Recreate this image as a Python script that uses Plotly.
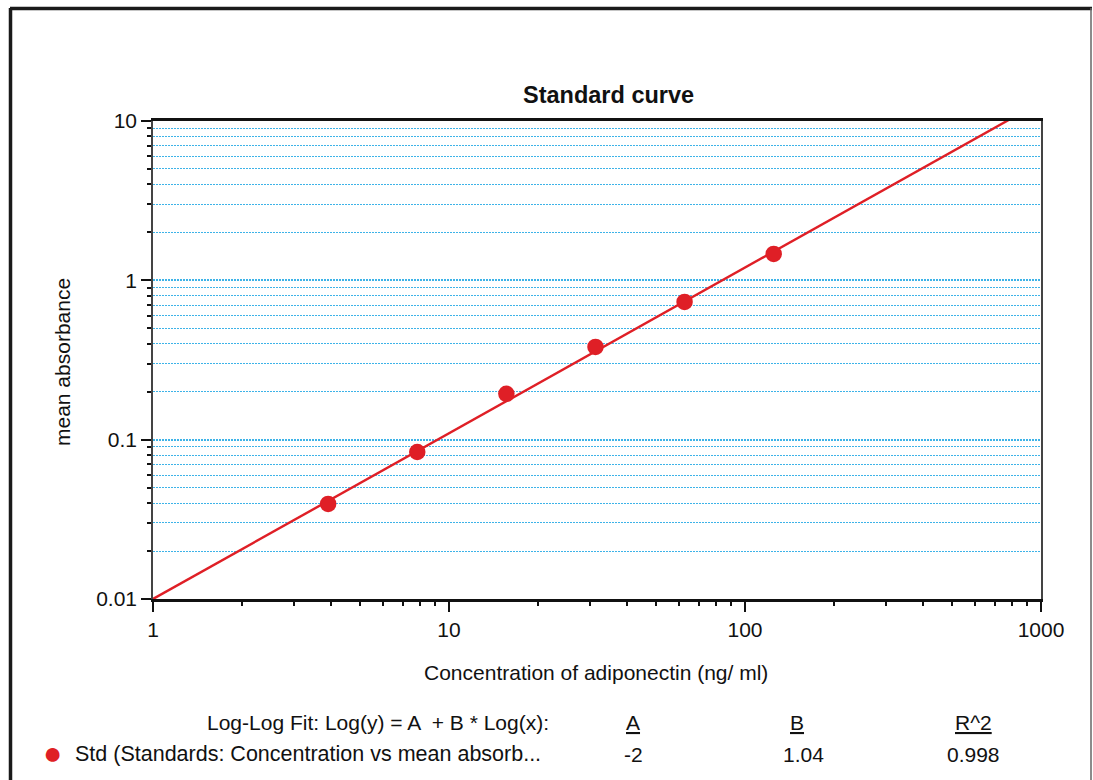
import plotly.graph_objects as go

# ---- data ----
conc = [3.906, 7.8125, 15.625, 31.25, 62.5, 125]
absorb = [0.0395, 0.0837, 0.194, 0.382, 0.732, 1.465]
fit_A = -2
fit_B = 1.04
fit_R2 = 0.998
fit_x = [1, 10, 100, 1000]
x_major = [1, 10, 100, 1000]
x_major_text = ["1", "10", "100", "1000"]
y_major = [0.01, 0.1, 1, 10]
y_major_text = ["0.01", "0.1", "1", "10"]
minor_mult = [2, 3, 4, 5, 6, 7, 8, 9]

fit_y = [10 ** fit_A * xv ** fit_B for xv in fit_x]
x_minor = [m * d for d in [1, 10, 100] for m in minor_mult]
y_minor = [m * d for d in [0.01, 0.1, 1] for m in minor_mult]

RED = "#DF1F26"
GRID = "#3DB3E8"
FONT = "Liberation Sans, Arial, sans-serif"
TXT = "#111111"
FS = 21

fig = go.Figure()
fig.add_trace(go.Scatter(x=fit_x, y=fit_y, mode="lines",
                         line=dict(color=RED, width=2.4), showlegend=False,
                         hoverinfo="skip"))
fig.add_trace(go.Scatter(x=conc, y=absorb, mode="markers",
                         marker=dict(color=RED, size=16.5, line=dict(width=0)),
                         showlegend=False, cliponaxis=False))

L, R, T, B = 153, 52, 121, 181
W, H = 1093, 780
pw, ph = W - L - R, H - T - B

def px(x):
    return (x - L) / pw

def py(y):
    return (H - B - y) / ph

fig.update_layout(
    width=W, height=H,
    margin=dict(l=L, r=R, t=T, b=B),
    paper_bgcolor="white", plot_bgcolor="white",
    font=dict(family=FONT, size=FS, color=TXT),
    showlegend=False,
    xaxis=dict(type="log", range=[0, 3], tickmode="array",
               tickvals=x_major, ticktext=x_major_text,
               ticks="outside", ticklen=10, tickwidth=2, tickcolor="#111",
               showgrid=False, zeroline=False,
               showline=True, linecolor="#111", linewidth=3, mirror=True,
               tickfont=dict(size=FS, color=TXT),
               minor=dict(tickmode="array", tickvals=x_minor, ticks="outside",
                          ticklen=4, tickwidth=2, tickcolor="#111",
                          showgrid=False)),
    yaxis=dict(type="log", range=[-2, 1], tickmode="array",
               tickvals=y_major, ticktext=y_major_text,
               ticks="outside", ticklen=10, tickwidth=2, tickcolor="#111",
               showgrid=True, gridcolor=GRID, gridwidth=1.5, griddash="2px,1px",
               zeroline=False,
               showline=True, linecolor="#444", linewidth=1.5, mirror=True,
               tickfont=dict(size=FS, color=TXT),
               minor=dict(tickmode="array", tickvals=y_minor, ticks="outside",
                          ticklen=4, tickwidth=2, tickcolor="#111",
                          showgrid=True, gridcolor=GRID, gridwidth=1,
                          griddash="2px,1px")),
)

ann = []
ann.append(dict(text="<b>Standard curve</b>", x=px(608), y=py(95),
                font=dict(size=23.5, color=TXT)))
ann.append(dict(text="Concentration of adiponectin (ng/ ml)", x=px(596), y=py(672)))
ann.append(dict(text="mean absorbance", x=px(62), y=py(362), textangle=-90))
ann.append(dict(text="Log-Log Fit: Log(y) = A  + B * Log(x):", x=px(551), y=py(722),
                xanchor="right"))
ann.append(dict(text="<u>A</u>", x=px(633), y=py(722)))
ann.append(dict(text="<u>B</u>", x=px(797), y=py(722)))
ann.append(dict(text="<u>R^2</u>", x=px(973), y=py(722)))
ann.append(dict(text="●", x=px(52), y=py(753), font=dict(size=32, color=RED)))
ann.append(dict(text="Std (Standards: Concentration vs mean absorb...", x=px(73), y=py(754),
                xanchor="left", font=dict(size=21.5, color=TXT)))
ann.append(dict(text=str(fit_A), x=px(633), y=py(754)))
ann.append(dict(text=f"{fit_B}", x=px(803), y=py(754)))
ann.append(dict(text=f"{fit_R2}", x=px(973), y=py(754)))
for a in ann:
    a.setdefault("xanchor", "center")
    a.update(xref="paper", yref="paper", yanchor="middle", showarrow=False)
fig.update_layout(annotations=ann)

# outer frame
shapes = [
    dict(type="line", x0=px(10), x1=px(1092), y0=py(8.5), y1=py(8.5),
         line=dict(color="#1a1a1a", width=3.5)),
    dict(type="line", x0=px(10.5), x1=px(10.5), y0=py(8), y1=py(790),
         line=dict(color="#1a1a1a", width=3.5)),
    dict(type="line", x0=px(1091), x1=px(1091), y0=py(8), y1=py(790),
         line=dict(color="#666", width=1.5)),
]
for s in shapes:
    s.update(xref="paper", yref="paper", layer="above")
fig.update_layout(shapes=shapes)

fig.write_html("out.html")
